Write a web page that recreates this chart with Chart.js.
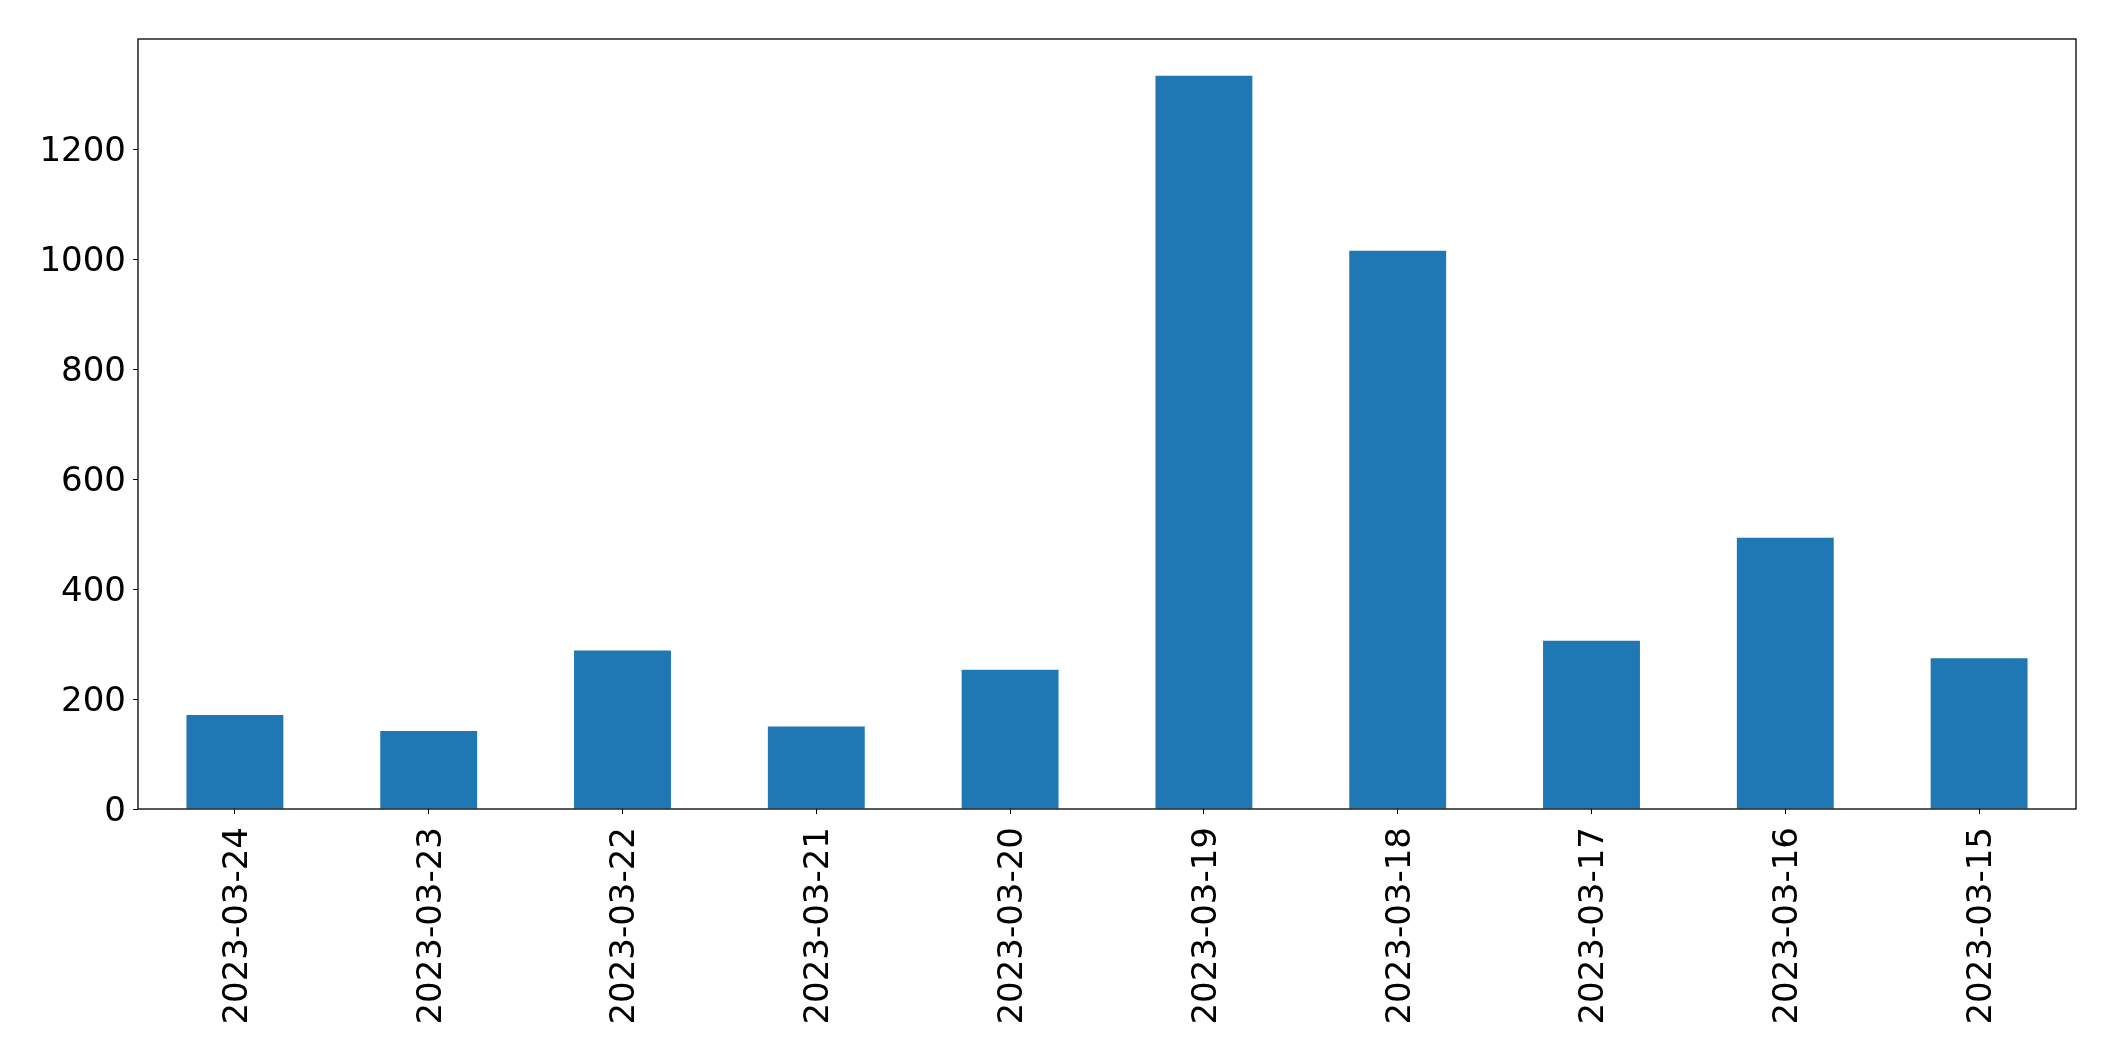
<!DOCTYPE html>
<html>
<head>
<meta charset="utf-8">
<script src="https://cdn.jsdelivr.net/npm/chart.js@4/dist/chart.umd.min.js"></script>
<style>
  html, body { margin: 0; padding: 0; background: #fff; }
  #wrap { width: 2115px; height: 1061px; }
</style>
</head>
<body>
<div id="wrap"><canvas id="barChart" width="2115" height="1061"></canvas></div>
<script>
const dates = [
  "2023-03-24", "2023-03-23", "2023-03-22", "2023-03-21", "2023-03-20",
  "2023-03-19", "2023-03-18", "2023-03-17", "2023-03-16", "2023-03-15"
];
const counts = [171, 142, 288, 150, 253, 1333, 1015, 306, 493, 274];
const yTicks = [0, 200, 400, 600, 800, 1000, 1200];
const yMax = 1400;

// box around the plot area, like matplotlib's spines
const frame = {
  id: "frame",
  afterDraw(chart) {
    const { ctx, chartArea: a } = chart;
    ctx.save();
    ctx.strokeStyle = "#000";
    ctx.lineWidth = 1.3;
    ctx.strokeRect(a.left, a.top, a.right - a.left, a.bottom - a.top);
    ctx.restore();
  }
};

Chart.defaults.font.family = "'DejaVu Sans', sans-serif";
Chart.defaults.font.size = 34;
Chart.defaults.color = "#000";

new Chart(document.getElementById("barChart"), {
  type: "bar",
  data: {
    labels: dates,
    datasets: [
      {
        data: counts,
        backgroundColor: "#1f77b4",
        categoryPercentage: 1,
        barPercentage: 0.5
      }
    ]
  },
  plugins: [frame],
  options: {
    responsive: false,
    animation: false,
    layout: { padding: { top: 39, right: 39, left: 0, bottom: 0 } },
    plugins: {
      legend: { display: false },
      tooltip: { enabled: false }
    },
    scales: {
      x: {
        grid: {
          display: true,
          offset: false,
          drawOnChartArea: false,
          drawTicks: true,
          tickLength: 5,
          color: "#000"
        },
        border: { display: false },
        ticks: {
          autoSkip: false,
          maxRotation: 90,
          minRotation: 90,
          padding: 13,
          labelOffset: 3
        },
        afterFit(scale) {
          scale.height = 252;
        }
      },
      y: {
        min: 0,
        max: yMax,
        grid: {
          display: true,
          drawOnChartArea: false,
          drawTicks: true,
          tickLength: 5,
          color: "#000"
        },
        border: { display: false },
        ticks: {
          padding: 7,
          labelOffset: 3,
          callback: (v) => String(v)
        },
        afterBuildTicks(scale) {
          scale.ticks = yTicks.map((v) => ({ value: v }));
        },
        afterFit(scale) {
          scale.width = 138;
        }
      }
    }
  }
});
</script>
</body>
</html>
